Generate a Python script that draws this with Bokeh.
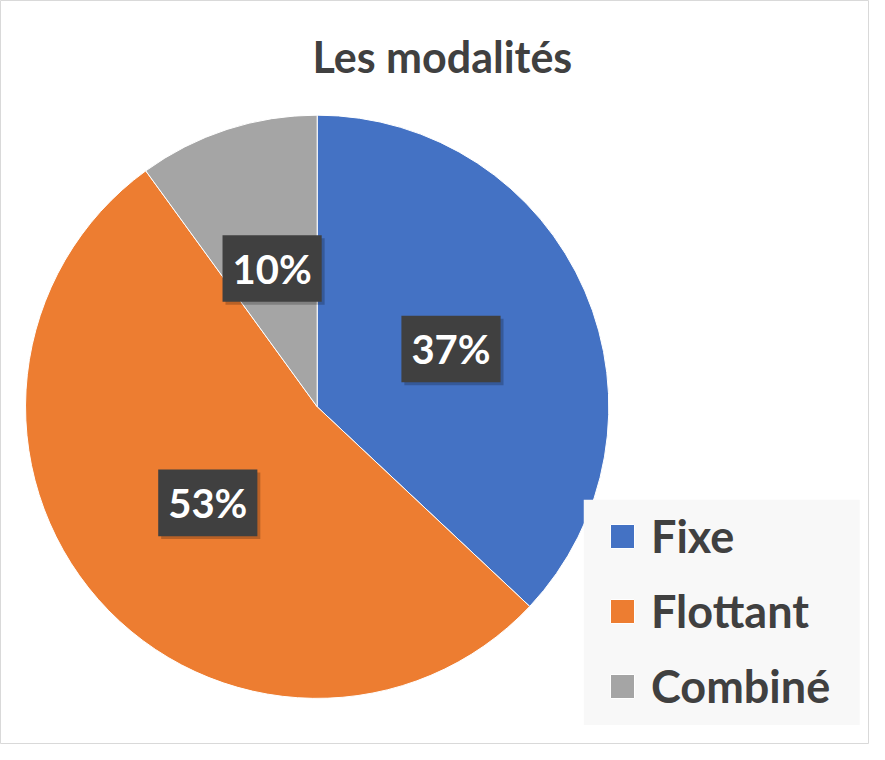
import math
from bokeh.plotting import figure
from bokeh.models import Range1d, ColumnDataSource, Legend, LegendItem
from bokeh.core.properties import value
from bokeh.embed import file_html
from bokeh.resources import INLINE

# ---- data ----
categories = ["Fixe", "Flottant", "Combiné"]
shares = [37, 53, 10]
colors = ["#4472C4", "#ED7D31", "#A5A5A5"]
title_text = "Les modalités"

W, H = 869, 744
FONT = "Lato"
TXT = "#404040"

# data space mirrors an 885x760 canvas (y up)
p = figure(width=W, height=H, output_backend="svg", toolbar_location=None,
           x_range=Range1d(0, 885), y_range=Range1d(0, 760),
           min_border=0, match_aspect=False)
p.axis.visible = False
p.grid.visible = False
p.background_fill_color = "white"
p.border_fill_color = "white"
p.outline_line_color = "#D9D9D9"
p.outline_line_width = 1

def Y(py):
    return 760 - py

cx, cy, R = 322.5, Y(415), 297

total = sum(shares)
starts, ends, mids = [], [], []
acc = 0.0
for s in shares:
    a0 = math.pi / 2 - 2 * math.pi * (acc + s) / total
    a1 = math.pi / 2 - 2 * math.pi * acc / total
    starts.append(a0)
    ends.append(a1)
    mids.append((a0 + a1) / 2)
    acc += s

renderers = []
for i in range(len(categories)):
    r = p.wedge(x=cx, y=cy, radius=R, start_angle=starts[i], end_angle=ends[i],
                fill_color=colors[i], line_color="white", line_width=1)
    renderers.append(r)

# data labels
lx = [cx + 0.5 * R * math.cos(m) for m in mids]
ly = [cy + 0.5 * R * math.sin(m) for m in mids]
labels = [f"{s}%" for s in shares]
lsrc = ColumnDataSource(dict(x=lx, y=ly, sx=[v + 3 for v in lx], sy=[v - 3 for v in ly], t=labels))
p.rect(x="sx", y="sy", width=101, height=68, source=lsrc, fill_color="black",
       fill_alpha=0.22, line_color=None)
p.rect(x="x", y="y", width=101, height=68, source=lsrc, fill_color="#404040",
       line_color=None)
p.text(x="x", y="y", text="t", source=lsrc, text_color="white",
       text_font=value(FONT), text_font_style="bold", text_font_size="40px",
       text_align="center", text_baseline="middle")

# title
p.text(x=[450], y=[Y(57)], text=[title_text], text_color=TXT,
       text_font=value(FONT), text_font_style="bold", text_font_size="43px",
       text_align="center", text_baseline="middle")

# legend background
p.quad(left=594, right=875, top=Y(510), bottom=Y(740), fill_color="#F8F8F8",
       line_color=None)

legend = Legend(items=[LegendItem(label=c, renderers=[r]) for c, r in zip(categories, renderers)],
                location=(607, 28), orientation="vertical", margin=0, padding=0,
                glyph_width=30, glyph_height=30, label_height=60, spacing=15,
                label_standoff=14,
                label_text_font=FONT, label_text_font_style="bold",
                label_text_font_size="45px", label_text_color=TXT,
                background_fill_alpha=0, border_line_color=None)
p.add_layout(legend, "center")

open("out.html", "w").write(file_html(p, INLINE))
